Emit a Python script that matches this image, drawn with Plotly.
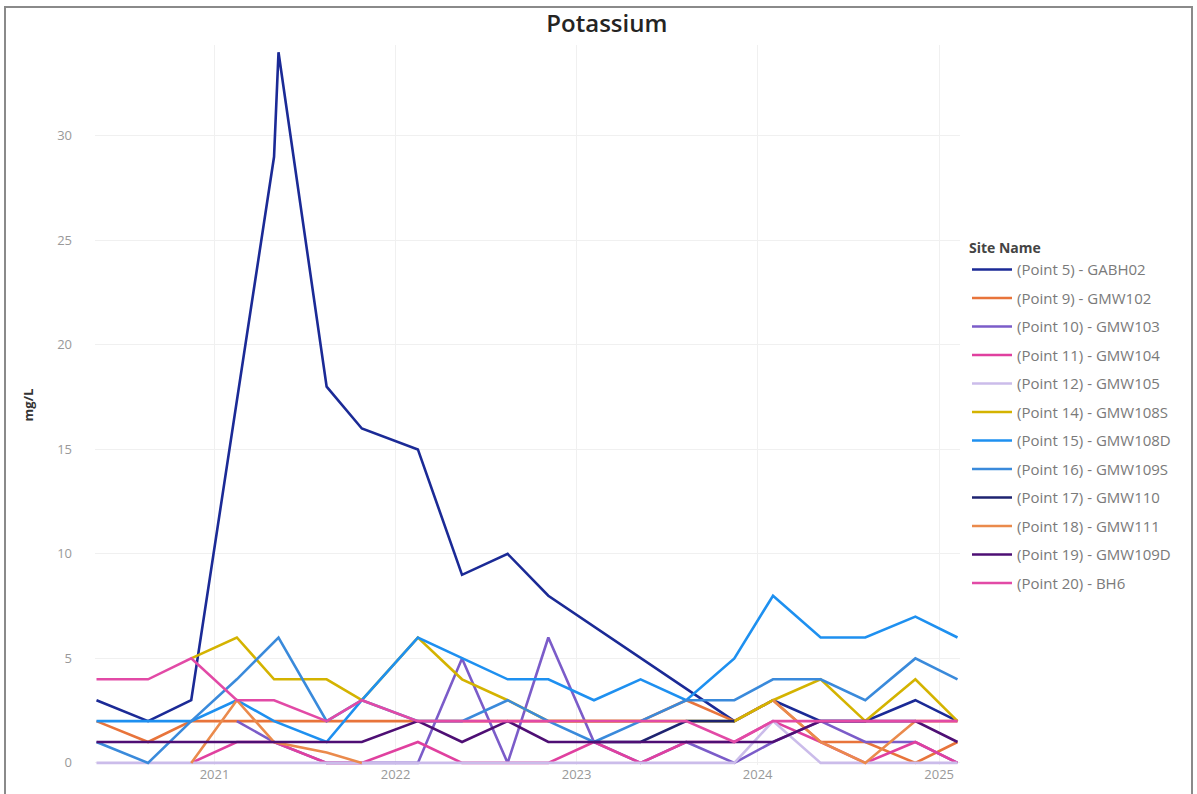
import plotly.graph_objects as go

# Sampling dates (quarterly monitoring rounds)
dates = [
    "2020-05-08", "2020-08-20", "2020-11-15", "2021-02-15", "2021-05-01",
    "2021-05-10", "2021-08-15", "2021-10-25", "2022-02-15", "2022-05-15",
    "2022-08-15", "2022-11-05", "2023-02-05", "2023-05-10", "2023-08-10",
    "2023-11-15", "2024-02-01", "2024-05-07", "2024-08-05", "2024-11-14",
    "2025-02-07",
]

N = None      # not sampled in that round
GAP = "gap"   # break in the line

site_names = [
    "(Point 5) - GABH02", "(Point 9) - GMW102", "(Point 10) - GMW103",
    "(Point 11) - GMW104", "(Point 12) - GMW105", "(Point 14) - GMW108S",
    "(Point 15) - GMW108D", "(Point 16) - GMW109S", "(Point 17) - GMW110",
    "(Point 18) - GMW111", "(Point 19) - GMW109D", "(Point 20) - BH6",
]

# Potassium, mg/L
gabh02 = [3, 2, 3, N, 29, 34, 18, 16, 15, 9, 10, 8, N, N, N, 2, 3, 2, 2, 3, 2]
gmw102 = [2, 1, 2, 2, 2, N, 2, 2, 2, 2, 2, 2, 2, 2, 3, 2, 3, 1, 1, 0, 1]
gmw103 = [N, N, N, 2, 1, N, 0, 0, 0, 5, 0, 6, 1, 0, 1, 0, 1, 2, 1, 1, 0]
gmw104 = [N, N, 0, 1, 1, N, 0, 0, 1, 0, 0, 0, 1, 0, 1, 1, 2, 1, 0, 1, 0]
gmw105 = [0, 0, 0, 0, 0, N, 0, 0, 0, 0, 0, 0, 0, 0, 0, 0, 2, 0, 0, 0, 0]
gmw108s = [N, N, 5, 6, 4, N, 4, 3, 6, 4, 3, 2, 2, 2, 2, 2, 3, 4, 2, 4, 2]
gmw108d = [2, 2, 2, 3, 2, N, 1, 3, 6, 5, 4, 4, 3, 4, 3, 5, 8, 6, 6, 7, 6]
gmw109s = [1, 0, 2, 4, N, 6, 2, 3, 2, 2, 3, 2, 1, 2, 3, 3, 4, 4, 3, 5, 4]
gmw110 = [N, N, N, N, N, N, N, N, N, N, N, N, 1, 1, 2, 2, N, N, N, N, N]
gmw111 = [N, N, 0, 3, 1, N, 0.5, 0, GAP, N, N, N, N, N, N, N, 3, 1, 0, 2, 2]
gmw109d = [1, 1, 1, 1, 1, N, 1, 1, 2, 1, 2, 1, 1, 1, 1, 1, 1, 2, 2, 2, 1]
bh6 = [4, 4, 5, 3, 3, N, 2, 3, 2, 2, 2, 2, 2, 2, 2, 1, 2, 2, 2, 2, 2]

series = [gabh02, gmw102, gmw103, gmw104, gmw105, gmw108s,
          gmw108d, gmw109s, gmw110, gmw111, gmw109d, bh6]

colors = [
    "#1B2A96", "#E8743B", "#7B5CC9", "#E0409F", "#CBBCEA", "#D4B300",
    "#1E90F0", "#3A8ADB", "#1E2370", "#EA8A4C", "#4E0F74", "#E24AA6",
]


def points(vals):
    xs, ys = [], []
    for d, v in zip(dates, vals):
        if v is None:
            continue
        xs.append(d)
        ys.append(None if v == GAP else v)
    return xs, ys


fig = go.Figure()
for name, vals, col in zip(site_names, series, colors):
    xs, ys = points(vals)
    fig.add_trace(go.Scatter(
        x=xs, y=ys, name=name, mode="lines",
        line=dict(color=col, width=2.6),
        connectgaps=False, legendgroup=name,
    ))

# plot-area edges in pixels
L, R, T, B = 95, 960, 45, 765
W, H = 1197, 794
def px(x):
    return (x - L) / (R - L)
def py(y):
    return (B - y) / (B - T)

# outer frame of the visual
fig.add_shape(type="rect", xref="paper", yref="paper",
              x0=px(5), x1=px(1192), y0=py(795), y1=py(7),
              line=dict(color="#8A8A8A", width=2), fillcolor="rgba(0,0,0,0)",
              layer="below")

font_family = "Open Sans, Noto Sans, sans-serif"
fig.update_layout(
    width=W, height=H,
    margin=dict(l=L, r=W - R, t=T, b=H - B, pad=0),
    paper_bgcolor="white", plot_bgcolor="white",
    font=dict(family=font_family, color="#777777"),
    title=dict(text="Potassium", x=0.507, xref="container", xanchor="center",
               y=1 - 24 / H, yref="container", yanchor="middle",
               font=dict(size=24, color="#252423", family=font_family,
                         weight=600)),
    showlegend=True,
    legend=dict(
        title=dict(text="<b>Site Name</b>", font=dict(size=14, color="#444444")),
        x=px(967), xanchor="left", y=py(235), yanchor="top",
        font=dict(size=15, color="#7A7A7A"),
        traceorder="grouped", tracegroupgap=6,
        itemwidth=40, bgcolor="rgba(0,0,0,0)",
    ),
    xaxis=dict(
        type="date", range=["2020-05-05", "2025-02-12"],
        showgrid=True, gridcolor="#F0F0F0", gridwidth=1,
        dtick="M12", tick0="2021-01-01", tickformat="%Y",
        tickfont=dict(size=13, color="#999999"),
        showline=False, zeroline=False, ticks="",
    ),
    yaxis=dict(
        range=[-0.1, 34.35], dtick=5, tick0=0,
        showgrid=True, gridcolor="#F0F0F0", gridwidth=1,
        tickfont=dict(size=13, color="#999999"),
        zeroline=False, showline=False, ticks="", ticklabelstandoff=22,
        title=dict(text="<b>mg/L</b>", font=dict(size=13, color="#333333"),
                   standoff=20),
    ),
)

fig.write_html("out.html")
